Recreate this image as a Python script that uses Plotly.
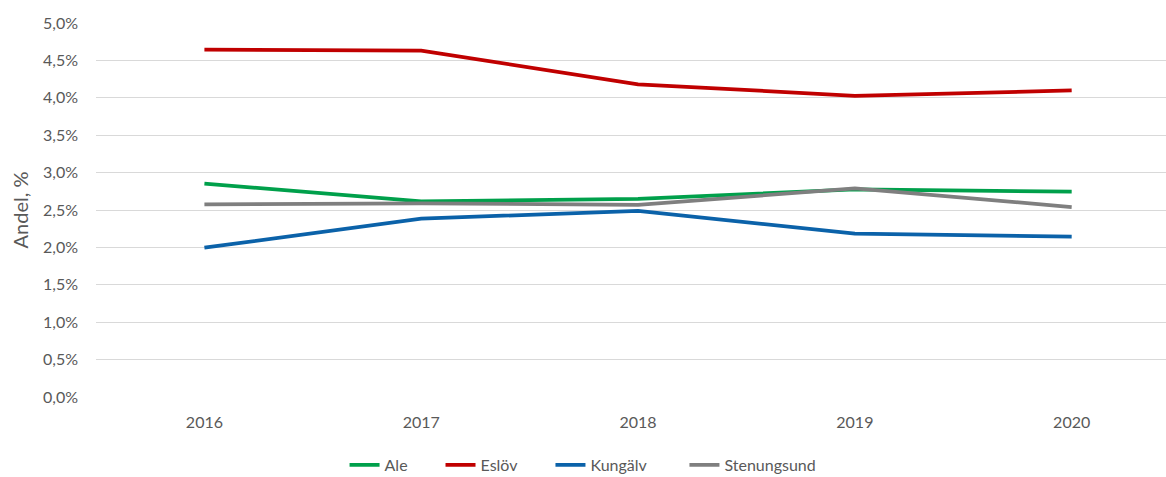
import plotly.graph_objects as go

years = ["2016", "2017", "2018", "2019", "2020"]
ale = [0.02853, 0.02615, 0.02650, 0.02777, 0.02746]
eslov = [0.04643, 0.04630, 0.04180, 0.04027, 0.04098]
kungalv = [0.01996, 0.02384, 0.02488, 0.02183, 0.02143]
stenungsund = [0.02576, 0.02590, 0.02567, 0.02790, 0.02540]

series = [
    ("Ale", ale, "#00A04B"),
    ("Eslöv", eslov, "#C00000"),
    ("Kungälv", kungalv, "#0B62A9"),
    ("Stenungsund", stenungsund, "#7F7F7F"),
]

# horizontal start of each legend entry (fraction of figure width)
legend_x = [0.2955, 0.3778, 0.4721, 0.5870]

font_family = "Lato, 'Open Sans', sans-serif"
grey = "#595959"

fig = go.Figure()
legend_layouts = {}
for i, (name, vals, col) in enumerate(series):
    lg = "legend" if i == 0 else f"legend{i + 1}"
    fig.add_trace(go.Scatter(
        x=years, y=vals, name=name, mode="lines",
        line=dict(color=col, width=3.75), legend=lg,
    ))
    legend_layouts[lg] = dict(
        orientation="h", xref="container", x=legend_x[i], xanchor="left",
        yref="container", y=0.025, yanchor="middle",
        font=dict(size=16, color=grey), bgcolor="rgba(0,0,0,0)",
    )

fig.update_layout(
    width=1166, height=477,
    margin=dict(l=96, r=0, t=23, b=80, autoexpand=False),
    paper_bgcolor="white", plot_bgcolor="white",
    separators=", ",
    font=dict(family=font_family, size=16, color=grey),
    showlegend=True,
    xaxis=dict(
        type="category", range=[-0.5, 4.435], automargin=False,
        showgrid=False, showline=False, zeroline=False, ticks="",
        tickfont=dict(size=16, color=grey), ticklabelstandoff=14,
    ),
    yaxis=dict(
        range=[0, 0.05], dtick=0.005, tickformat=".1%", automargin=False,
        showgrid=True, gridcolor="#D9D9D9", gridwidth=1,
        zeroline=False, showline=False, ticks="",
        tickfont=dict(size=16, color=grey), ticklabelstandoff=17,
        title=dict(text="Andel, %", font=dict(size=20, color=grey), standoff=8),
    ),
    **legend_layouts,
)

fig.write_html(
    "out.html",
    config={"displayModeBar": False},
    post_script="document.body.style.margin='0';document.body.style.overflow='hidden';",
)
